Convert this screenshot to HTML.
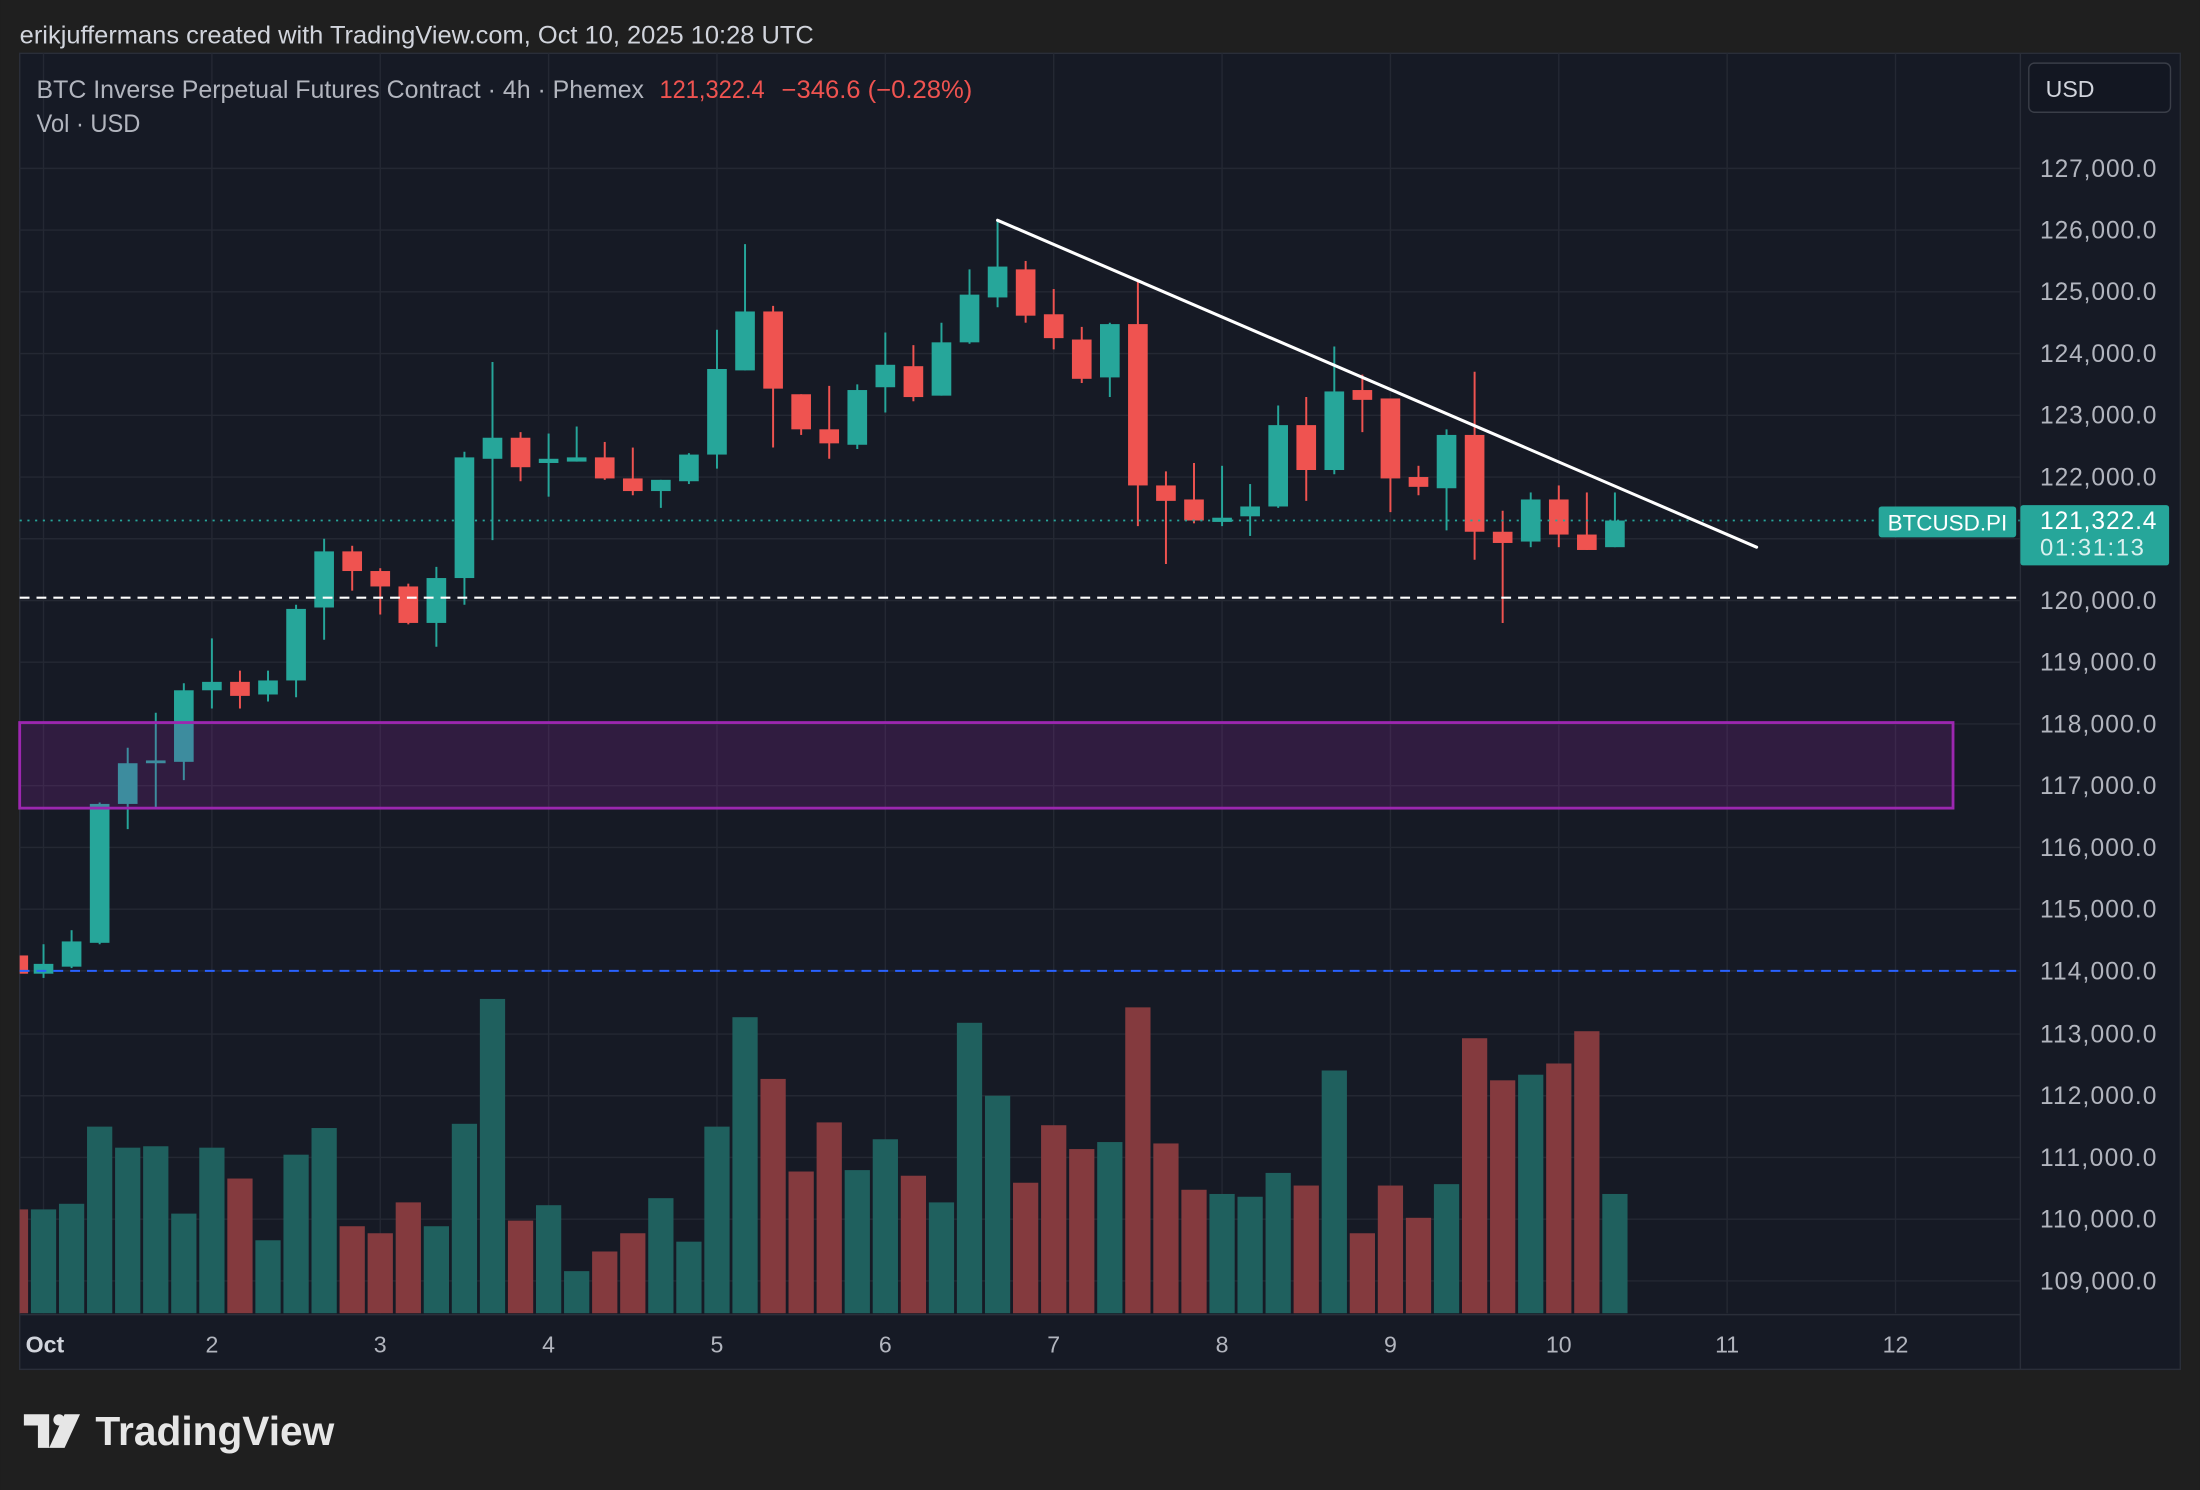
<!DOCTYPE html>
<html><head><meta charset="utf-8"><style>
html,body{margin:0;padding:0;background:#1f1f1f;}
svg{display:block;}
text{font-family:"Liberation Sans",sans-serif;}
</style></head><body>
<svg width="2200" height="1490" viewBox="0 0 1568 1062" xmlns="http://www.w3.org/2000/svg">
<rect x="0" y="0" width="1568" height="1062" fill="#1f1f1f"/>
<text x="14" y="31" font-size="17.5" fill="#d1d4dc" textLength="566" lengthAdjust="spacingAndGlyphs">erikjuffermans created with TradingView.com, Oct 10, 2025 10:28 UTC</text>
<!-- panel -->
<rect x="14" y="38" width="1540" height="938" fill="#161a25" stroke="#2a2e39" stroke-width="1"/>
<!-- grid -->
<g stroke="#242833" stroke-width="1">
<line x1="14" y1="120" x2="1440" y2="120"/><line x1="14" y1="164" x2="1440" y2="164"/><line x1="14" y1="208" x2="1440" y2="208"/><line x1="14" y1="252" x2="1440" y2="252"/><line x1="14" y1="296" x2="1440" y2="296"/><line x1="14" y1="340" x2="1440" y2="340"/><line x1="14" y1="384" x2="1440" y2="384"/><line x1="14" y1="428" x2="1440" y2="428"/><line x1="14" y1="472" x2="1440" y2="472"/><line x1="14" y1="516" x2="1440" y2="516"/><line x1="14" y1="560" x2="1440" y2="560"/><line x1="14" y1="604" x2="1440" y2="604"/><line x1="14" y1="648" x2="1440" y2="648"/><line x1="14" y1="692" x2="1440" y2="692"/><line x1="14" y1="737" x2="1440" y2="737"/><line x1="14" y1="781" x2="1440" y2="781"/><line x1="14" y1="825" x2="1440" y2="825"/><line x1="14" y1="869" x2="1440" y2="869"/><line x1="14" y1="913" x2="1440" y2="913"/>
<line x1="31" y1="38" x2="31" y2="936"/><line x1="151" y1="38" x2="151" y2="936"/><line x1="271" y1="38" x2="271" y2="936"/><line x1="391" y1="38" x2="391" y2="936"/><line x1="511" y1="38" x2="511" y2="936"/><line x1="631" y1="38" x2="631" y2="936"/><line x1="751" y1="38" x2="751" y2="936"/><line x1="871" y1="38" x2="871" y2="936"/><line x1="991" y1="38" x2="991" y2="936"/><line x1="1111" y1="38" x2="1111" y2="936"/><line x1="1231" y1="38" x2="1231" y2="936"/><line x1="1351" y1="38" x2="1351" y2="936"/>
</g>
<!-- volume -->
<g fill="#1f605e">
<rect x="22" y="862" width="18" height="74"/><rect x="42" y="858" width="18" height="78"/><rect x="62" y="803" width="18" height="133"/><rect x="82" y="818" width="18" height="118"/><rect x="102" y="817" width="18" height="119"/><rect x="122" y="865" width="18" height="71"/><rect x="142" y="818" width="18" height="118"/><rect x="182" y="884" width="18" height="52"/><rect x="202" y="823" width="18" height="113"/><rect x="222" y="804" width="18" height="132"/><rect x="302" y="874" width="18" height="62"/><rect x="322" y="801" width="18" height="135"/><rect x="342" y="712" width="18" height="224"/><rect x="382" y="859" width="18" height="77"/><rect x="402" y="906" width="18" height="30"/><rect x="462" y="854" width="18" height="82"/><rect x="482" y="885" width="18" height="51"/><rect x="502" y="803" width="18" height="133"/><rect x="522" y="725" width="18" height="211"/><rect x="602" y="834" width="18" height="102"/><rect x="622" y="812" width="18" height="124"/><rect x="662" y="857" width="18" height="79"/><rect x="682" y="729" width="18" height="207"/><rect x="702" y="781" width="18" height="155"/><rect x="782" y="814" width="18" height="122"/><rect x="862" y="851" width="18" height="85"/><rect x="882" y="853" width="18" height="83"/><rect x="902" y="836" width="18" height="100"/><rect x="942" y="763" width="18" height="173"/><rect x="1022" y="844" width="18" height="92"/><rect x="1082" y="766" width="18" height="170"/><rect x="1142" y="851" width="18" height="85"/>
</g>
<g fill="#843a3e">
<rect x="14" y="862" width="6" height="74"/><rect x="162" y="840" width="18" height="96"/><rect x="242" y="874" width="18" height="62"/><rect x="262" y="879" width="18" height="57"/><rect x="282" y="857" width="18" height="79"/><rect x="362" y="870" width="18" height="66"/><rect x="422" y="892" width="18" height="44"/><rect x="442" y="879" width="18" height="57"/><rect x="542" y="769" width="18" height="167"/><rect x="562" y="835" width="18" height="101"/><rect x="582" y="800" width="18" height="136"/><rect x="642" y="838" width="18" height="98"/><rect x="722" y="843" width="18" height="93"/><rect x="742" y="802" width="18" height="134"/><rect x="762" y="819" width="18" height="117"/><rect x="802" y="718" width="18" height="218"/><rect x="822" y="815" width="18" height="121"/><rect x="842" y="848" width="18" height="88"/><rect x="922" y="845" width="18" height="91"/><rect x="962" y="879" width="18" height="57"/><rect x="982" y="845" width="18" height="91"/><rect x="1002" y="868" width="18" height="68"/><rect x="1042" y="740" width="18" height="196"/><rect x="1062" y="770" width="18" height="166"/><rect x="1102" y="758" width="18" height="178"/><rect x="1122" y="735" width="18" height="201"/>
</g>
<!-- candles green -->
<g fill="#26a69a" stroke="#26a69a" stroke-width="1.4">
<line x1="31" y1="673" x2="31" y2="697"/><rect x="24" y="687" width="14" height="7" stroke="none"/>
<line x1="51" y1="663" x2="51" y2="690"/><rect x="44" y="671" width="14" height="18" stroke="none"/>
<line x1="71" y1="572" x2="71" y2="673"/><rect x="64" y="573" width="14" height="99" stroke="none"/>
<line x1="91" y1="533" x2="91" y2="591"/><rect x="84" y="544" width="14" height="29" stroke="none"/>
<line x1="111" y1="508" x2="111" y2="577"/><rect x="104" y="542" width="14" height="2" stroke="none"/>
<line x1="131" y1="487" x2="131" y2="556"/><rect x="124" y="492" width="14" height="51" stroke="none"/>
<line x1="151" y1="455" x2="151" y2="505"/><rect x="144" y="486" width="14" height="6" stroke="none"/>
<line x1="191" y1="478" x2="191" y2="500"/><rect x="184" y="485" width="14" height="10" stroke="none"/>
<line x1="211" y1="431" x2="211" y2="497"/><rect x="204" y="434" width="14" height="51" stroke="none"/>
<line x1="231" y1="384" x2="231" y2="456"/><rect x="224" y="393" width="14" height="40" stroke="none"/>
<line x1="311" y1="404" x2="311" y2="461"/><rect x="304" y="412" width="14" height="32" stroke="none"/>
<line x1="331" y1="322" x2="331" y2="431"/><rect x="324" y="326" width="14" height="86" stroke="none"/>
<line x1="351" y1="258" x2="351" y2="385"/><rect x="344" y="312" width="14" height="15" stroke="none"/>
<line x1="391" y1="309" x2="391" y2="354"/><rect x="384" y="327" width="14" height="3" stroke="none"/>
<line x1="411" y1="304" x2="411" y2="329"/><rect x="404" y="326" width="14" height="3" stroke="none"/>
<line x1="471" y1="342" x2="471" y2="362"/><rect x="464" y="342" width="14" height="8" stroke="none"/>
<line x1="491" y1="323" x2="491" y2="345"/><rect x="484" y="324" width="14" height="19" stroke="none"/>
<line x1="511" y1="235" x2="511" y2="334"/><rect x="504" y="263" width="14" height="61" stroke="none"/>
<line x1="531" y1="174" x2="531" y2="264"/><rect x="524" y="222" width="14" height="42" stroke="none"/>
<line x1="611" y1="274" x2="611" y2="320"/><rect x="604" y="278" width="14" height="39" stroke="none"/>
<line x1="631" y1="237" x2="631" y2="294"/><rect x="624" y="260" width="14" height="16" stroke="none"/>
<line x1="671" y1="230" x2="671" y2="282"/><rect x="664" y="244" width="14" height="38" stroke="none"/>
<line x1="691" y1="192" x2="691" y2="245"/><rect x="684" y="210" width="14" height="34" stroke="none"/>
<line x1="711" y1="157" x2="711" y2="219"/><rect x="704" y="190" width="14" height="22" stroke="none"/>
<line x1="791" y1="230" x2="791" y2="283"/><rect x="784" y="231" width="14" height="38" stroke="none"/>
<line x1="871" y1="332" x2="871" y2="375"/><rect x="864" y="369" width="14" height="3" stroke="none"/>
<line x1="891" y1="345" x2="891" y2="382"/><rect x="884" y="361" width="14" height="7" stroke="none"/>
<line x1="911" y1="289" x2="911" y2="362"/><rect x="904" y="303" width="14" height="58" stroke="none"/>
<line x1="951" y1="247" x2="951" y2="338"/><rect x="944" y="279" width="14" height="56" stroke="none"/>
<line x1="1031" y1="306" x2="1031" y2="378"/><rect x="1024" y="310" width="14" height="38" stroke="none"/>
<line x1="1091" y1="351" x2="1091" y2="390"/><rect x="1084" y="356" width="14" height="30" stroke="none"/>
<line x1="1151" y1="351" x2="1151" y2="390"/><rect x="1144" y="371" width="14" height="19" stroke="none"/>
</g>
<g fill="#ef5350" stroke="#ef5350" stroke-width="1.4">
<rect x="14" y="681" width="6" height="13" stroke="none"/>
<line x1="171" y1="478" x2="171" y2="505"/><rect x="164" y="486" width="14" height="10" stroke="none"/>
<line x1="251" y1="389" x2="251" y2="421"/><rect x="244" y="393" width="14" height="14" stroke="none"/>
<line x1="271" y1="405" x2="271" y2="438"/><rect x="264" y="407" width="14" height="11" stroke="none"/>
<line x1="291" y1="416" x2="291" y2="445"/><rect x="284" y="418" width="14" height="26" stroke="none"/>
<line x1="371" y1="308" x2="371" y2="343"/><rect x="364" y="312" width="14" height="21" stroke="none"/>
<line x1="431" y1="315" x2="431" y2="342"/><rect x="424" y="326" width="14" height="15" stroke="none"/>
<line x1="451" y1="319" x2="451" y2="353"/><rect x="444" y="341" width="14" height="9" stroke="none"/>
<line x1="551" y1="218" x2="551" y2="319"/><rect x="544" y="222" width="14" height="55" stroke="none"/>
<line x1="571" y1="281" x2="571" y2="310"/><rect x="564" y="281" width="14" height="25" stroke="none"/>
<line x1="591" y1="275" x2="591" y2="327"/><rect x="584" y="306" width="14" height="10" stroke="none"/>
<line x1="651" y1="246" x2="651" y2="286"/><rect x="644" y="261" width="14" height="22" stroke="none"/>
<line x1="731" y1="186" x2="731" y2="230"/><rect x="724" y="192" width="14" height="33" stroke="none"/>
<line x1="751" y1="206" x2="751" y2="249"/><rect x="744" y="224" width="14" height="17" stroke="none"/>
<line x1="771" y1="233" x2="771" y2="273"/><rect x="764" y="242" width="14" height="28" stroke="none"/>
<line x1="811" y1="201" x2="811" y2="375"/><rect x="804" y="231" width="14" height="115" stroke="none"/>
<line x1="831" y1="336" x2="831" y2="402"/><rect x="824" y="346" width="14" height="11" stroke="none"/>
<line x1="851" y1="330" x2="851" y2="373"/><rect x="844" y="356" width="14" height="15" stroke="none"/>
<line x1="931" y1="283" x2="931" y2="357"/><rect x="924" y="303" width="14" height="32" stroke="none"/>
<line x1="971" y1="267" x2="971" y2="308"/><rect x="964" y="278" width="14" height="7" stroke="none"/>
<line x1="991" y1="284" x2="991" y2="365"/><rect x="984" y="284" width="14" height="57" stroke="none"/>
<line x1="1011" y1="332" x2="1011" y2="353"/><rect x="1004" y="340" width="14" height="7" stroke="none"/>
<line x1="1051" y1="265" x2="1051" y2="399"/><rect x="1044" y="310" width="14" height="69" stroke="none"/>
<line x1="1071" y1="364" x2="1071" y2="444"/><rect x="1064" y="379" width="14" height="8" stroke="none"/>
<line x1="1111" y1="346" x2="1111" y2="390"/><rect x="1104" y="356" width="14" height="25" stroke="none"/>
<line x1="1131" y1="351" x2="1131" y2="392"/><rect x="1124" y="381" width="14" height="11" stroke="none"/>
</g>
<!-- zone -->
<rect x="14" y="515" width="1378" height="61" fill="#9c27b0" fill-opacity="0.2" stroke="#9c27b0" stroke-width="2"/>
<!-- lines -->
<line x1="14" y1="426" x2="1440" y2="426" stroke="#ffffff" stroke-width="1.5" stroke-dasharray="7,5"/>
<line x1="14" y1="692" x2="1440" y2="692" stroke="#2962ff" stroke-width="1.5" stroke-dasharray="7,5"/>
<line x1="14" y1="371" x2="1440" y2="371" stroke="#26a69a" stroke-width="1.2" stroke-dasharray="1.5,4"/>
<line x1="711" y1="157" x2="1252" y2="390" stroke="#ffffff" stroke-width="2.2" stroke-linecap="round"/>
<!-- axes -->
<line x1="1440" y1="38" x2="1440" y2="976" stroke="#2a2e39" stroke-width="1"/>
<line x1="14" y1="937" x2="1440" y2="937" stroke="#2a2e39" stroke-width="1"/>
<g font-size="17.5" fill="#b2b5be">
<text x="1454" y="126" textLength="83">127,000.0</text><text x="1454" y="170" textLength="83">126,000.0</text><text x="1454" y="214" textLength="83">125,000.0</text><text x="1454" y="258" textLength="83">124,000.0</text><text x="1454" y="302" textLength="83">123,000.0</text><text x="1454" y="346" textLength="83">122,000.0</text><text x="1454" y="434" textLength="83">120,000.0</text><text x="1454" y="478" textLength="83">119,000.0</text><text x="1454" y="522" textLength="83">118,000.0</text><text x="1454" y="566" textLength="83">117,000.0</text><text x="1454" y="610" textLength="83">116,000.0</text><text x="1454" y="654" textLength="83">115,000.0</text><text x="1454" y="698" textLength="83">114,000.0</text><text x="1454" y="743" textLength="83">113,000.0</text><text x="1454" y="787" textLength="83">112,000.0</text><text x="1454" y="831" textLength="83">111,000.0</text><text x="1454" y="875" textLength="83">110,000.0</text><text x="1454" y="919" textLength="83">109,000.0</text>
</g>
<g font-size="16.5" fill="#b2b5be" text-anchor="middle">
<text x="32" y="964" font-weight="bold" fill="#d1d4dc">Oct</text><text x="151" y="964">2</text><text x="271" y="964">3</text><text x="391" y="964">4</text><text x="511" y="964">5</text><text x="631" y="964">6</text><text x="751" y="964">7</text><text x="871" y="964">8</text><text x="991" y="964">9</text><text x="1111" y="964">10</text><text x="1231" y="964">11</text><text x="1351" y="964">12</text>
</g>
<!-- price labels -->
<rect x="1339" y="361" width="98" height="22" rx="2" fill="#26a69a"/>
<text x="1388" y="378" font-size="16" fill="#ffffff" text-anchor="middle">BTCUSD.PI</text>
<rect x="1440" y="360" width="106" height="43" rx="2" fill="#26a69a"/>
<text x="1454" y="377" font-size="17.5" fill="#ffffff" textLength="83">121,322.4</text>
<text x="1454" y="396" font-size="17" fill="#d8f0ee" textLength="74">01:31:13</text>
<rect x="1446" y="45" width="101" height="35" rx="4" fill="#131722" stroke="#3a3e48" stroke-width="1"/>
<text x="1458" y="69" font-size="16.5" fill="#d1d4dc">USD</text>
<!-- header -->
<text x="26" y="70" font-size="17.5" fill="#b2b5be" textLength="433" lengthAdjust="spacingAndGlyphs">BTC Inverse Perpetual Futures Contract · 4h · Phemex</text>
<text x="470" y="70" font-size="17.5" fill="#ef5350" textLength="75" lengthAdjust="spacingAndGlyphs">121,322.4</text>
<text x="557" y="70" font-size="17.5" fill="#ef5350" textLength="136" lengthAdjust="spacingAndGlyphs">−346.6 (−0.28%)</text>
<text x="26" y="94" font-size="17.5" fill="#b2b5be" textLength="74" lengthAdjust="spacingAndGlyphs">Vol · USD</text>
<!-- footer logo -->
<g fill="#e6e6e6">
<path d="M17 1008 h18 v24 h-8 v-16 h-10 z"/>
<circle cx="42" cy="1012" r="4"/>
<path d="M46 1008 h11 l-11 24 h-11 z"/>
</g>
<text x="68" y="1030" font-size="29" font-weight="bold" fill="#e6e6e6">TradingView</text>
</svg>
</body></html>
